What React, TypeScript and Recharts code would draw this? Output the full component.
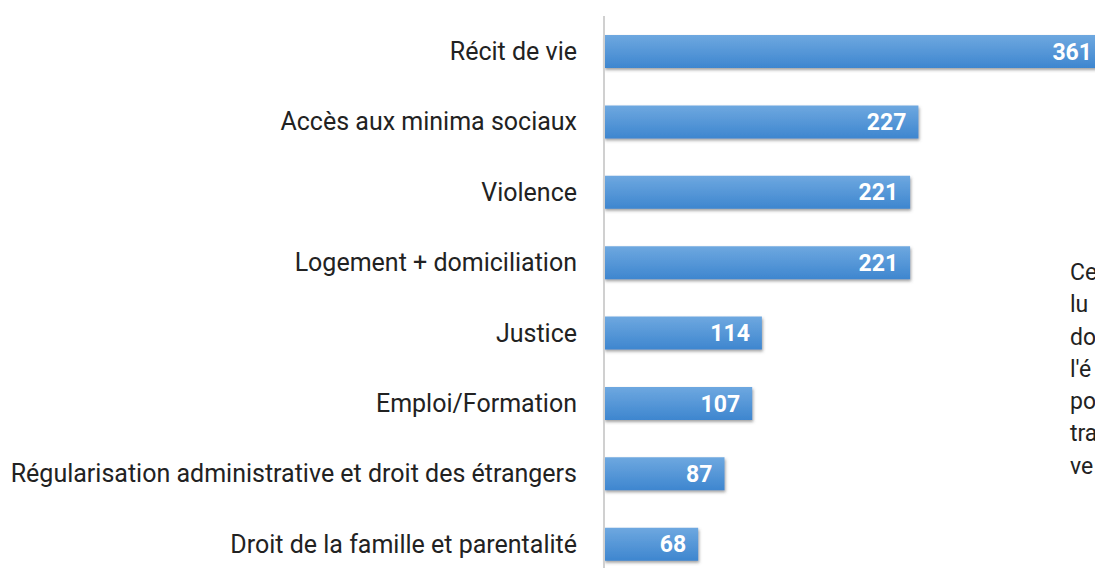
import { BarChart, Bar, XAxis, YAxis, LabelList } from 'recharts';

const categories = [
  'Récit de vie',
  'Accès aux minima sociaux ',
  'Violence',
  'Logement + domiciliation',
  'Justice',
  'Emploi/Formation',
  'Régularisation administrative et droit des étrangers',
  'Droit de la famille et parentalité',
];
const counts = [361, 227, 221, 221, 114, 107, 87, 68];
const sideText = ['Ce', 'lu', 'do', "l'é", 'po', 'tra', 've'];

const data = categories.map((name, i) => ({ name, value: counts[i] }));

const App = () => {
  return (
    <div
      style={{
        position: 'absolute',
        left: 0,
        top: 0,
        width: 1095,
        height: 568,
        overflow: 'hidden',
        background: '#fff',
        fontFamily: 'Roboto, sans-serif',
      }}
    >
      <BarChart
        width={1110}
        height={600}
        data={data}
        layout="vertical"
        margin={{ top: 16, right: 6, bottom: 21, left: 0 }}
        barSize={33}
      >
        <defs>
          <linearGradient id="barFill" x1="0" y1="0" x2="0" y2="1">
            <stop offset="0%" stopColor="#6ea8e0" />
            <stop offset="100%" stopColor="#3e86cf" />
          </linearGradient>
          <filter id="shadow" x="-5%" y="-20%" width="110%" height="160%">
            <feDropShadow dx="1" dy="2" stdDeviation="1.5" floodColor="#555" floodOpacity="0.55" />
          </filter>
        </defs>
        <XAxis type="number" domain={[0, 361]} hide />
        <YAxis
          type="category"
          dataKey="name"
          width={604}
          axisLine={{ stroke: '#d0d0d0', strokeWidth: 2 }}
          tickLine={false}
          tickMargin={21}
          tick={{ fill: '#222', fontSize: 25, fontFamily: 'Roboto, sans-serif' }}
        />
        <Bar dataKey="value" fill="url(#barFill)" filter="url(#shadow)" isAnimationActive={false}>
          <LabelList
            dataKey="value"
            position="insideRight"
            offset={12}
            fill="#fff"
            fontSize={23}
            fontWeight={700}
            fontFamily="Roboto, sans-serif"
          />
        </Bar>
      </BarChart>
      <div
        style={{
          position: 'absolute',
          left: 1070,
          top: 257,
          fontSize: 23,
          lineHeight: '32.3px',
          color: '#222',
          fontFamily: 'Roboto, sans-serif',
          whiteSpace: 'nowrap',
        }}
      >
        {sideText.map((t) => (
          <div key={t}>{t}</div>
        ))}
      </div>
    </div>
  );
};

export default App;
